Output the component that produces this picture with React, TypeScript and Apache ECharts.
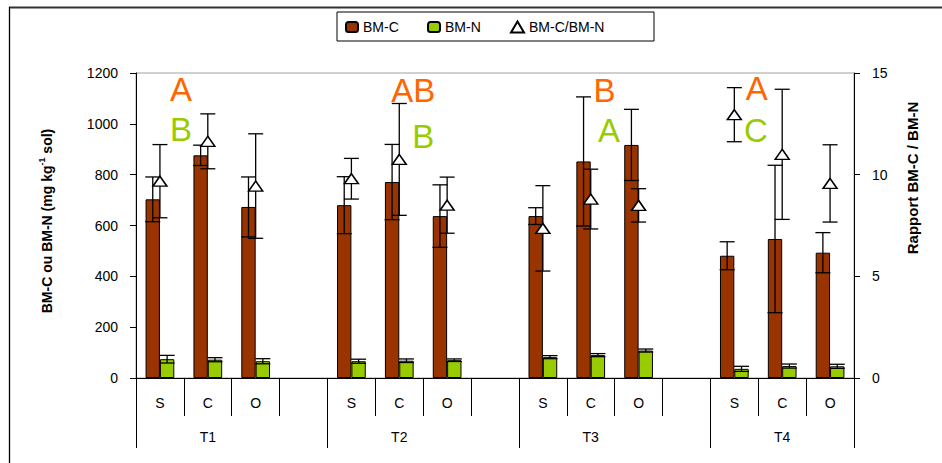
import React, { useEffect, useRef } from "react";
import * as echarts from "echarts";

// ---- data ----
const slots = ["S", "C", "O", "", "S", "C", "O", "", "S", "C", "O", "", "S", "C", "O"];
const groups = ["T1", "T2", "T3", "T4"];
const bmC = [703, 876, 673, null, 680, 771, 637, null, 637, 852, 917, null, 481, 547, 493];
const bmCErr = [88, 40, 118, null, 112, 148, 123, null, 33, 254, 140, null, 55, 290, 79];
const bmN = [74, 72, 66, null, 66, 68, 70, null, 82, 90, 108, null, 36, 47, 46];
const bmNErr = [15, 8, 10, null, 8, 7, 5, null, 6, 6, 6, null, 10, 8, 8];
const ratio = [9.68, 11.64, 9.44, null, 9.8, 10.75, 8.5, null, 7.36, 8.8, 8.49, null, 12.95, 11.0, 9.57];
const ratioErr = [1.8, 1.35, 2.57, null, 1.0, 2.75, 1.38, null, 2.1, 1.47, 0.82, null, 1.33, 3.2, 1.9];
const lettersC = ["A", "AB", "B", "A"];
const lettersN = ["B", "B", "A", "C"];

// annotation anchors (axis units): [x on slot scale, y on left axis]
const lettersCPos = [[0.94, 1137], [5.79, 1133], [9.79, 1131], [12.97, 1139]];
const lettersNPos = [[0.94, 976], [6.0, 952], [9.88, 974], [12.95, 974]];

const FONT = "'Liberation Sans', Arial, Helvetica, sans-serif";
const C_COL = "#993300";
const N_COL = "#99CC00";

// group boundaries and label centres derived from the slot list
const boundaries: number[] = [0];
slots.forEach((s, i) => {
  if (s === "") boundaries.push(i + 1);
});
boundaries.push(slots.length);
const groupCenters: number[] = [];
for (let g = 0; g < groups.length; g++) {
  const a = boundaries[g];
  let b = boundaries[g + 1];
  if (slots[b - 1] === "") b = b - 1;
  groupCenters.push((a + b) / 2);
}

const errData = (vals: (number | null)[], errs: (number | null)[], off: number) =>
  vals
    .map((v, i) => (v == null || errs[i] == null ? null : [i + 0.5 + off, v - (errs[i] as number), v + (errs[i] as number)]))
    .filter((d) => d !== null);

const renderErr = (params: any, api: any) => {
  const x = api.value(0);
  const lo = api.coord([x, api.value(1)]);
  const hi = api.coord([x, api.value(2)]);
  const hw = 7.5;
  const st = { stroke: "#000", lineWidth: 1.3 };
  return {
    type: "group",
    children: [
      { type: "line", shape: { x1: hi[0], y1: hi[1], x2: lo[0], y2: lo[1] }, style: st },
      { type: "line", shape: { x1: hi[0] - hw, y1: hi[1], x2: hi[0] + hw, y2: hi[1] }, style: st },
      { type: "line", shape: { x1: lo[0] - hw, y1: lo[1], x2: lo[0] + hw, y2: lo[1] }, style: st },
    ],
  };
};

export default function App() {
  const ref = useRef<HTMLDivElement>(null);
  useEffect(() => {
    if (!ref.current) return;
    const chart = echarts.init(ref.current, null, { renderer: "svg" });
    const legendCommon = {
      top: 20,
      padding: 0,
      itemWidth: 12,
      itemHeight: 10,
      itemGap: 5,
      textStyle: { fontSize: 14, color: "#000", fontFamily: FONT },
      selectedMode: false,
    };
    const plain = (v: number) => String(v);
    chart.setOption({
      animation: false,
      backgroundColor: "#fff",
      textStyle: { fontFamily: FONT },
      grid: { left: 136, top: 73, width: 718, height: 305, show: true, borderColor: "#a0a0a0", borderWidth: 1 },
      legend: [
        { ...legendCommon, left: 345, data: ["BM-C"] },
        { ...legendCommon, left: 427, data: ["BM-N"] },
        { ...legendCommon, left: 510, itemWidth: 13, itemHeight: 11, data: ["BM-C/BM-N"] },
      ],
      xAxis: [
        {
          type: "category",
          data: slots,
          position: "bottom",
          axisLine: { show: true, lineStyle: { color: "#000", width: 1 } },
          axisTick: { show: true, interval: 0, length: 38, lineStyle: { color: "#000" } },
          axisLabel: { interval: 0, margin: 18, fontSize: 14, color: "#000", fontFamily: FONT },
          splitLine: { show: false },
        },
        {
          type: "value",
          min: 0,
          max: slots.length,
          position: "bottom",
          offset: 0,
          axisLine: { show: false },
          axisTick: { show: true, customValues: boundaries, length: 70, lineStyle: { color: "#000" } },
          axisLabel: {
            customValues: groupCenters,
            margin: 52,
            fontSize: 14,
            color: "#000",
            fontFamily: FONT,
            formatter: (v: number) => {
              const k = groupCenters.findIndex((c) => Math.abs(c - v) < 1e-6);
              return k >= 0 ? groups[k] : "";
            },
          },
          splitLine: { show: false },
        },
      ],
      yAxis: [
        {
          type: "value",
          min: 0,
          max: 1200,
          interval: 200,
          position: "left",
          axisLine: { show: true, lineStyle: { color: "#000" } },
          axisTick: { show: true, length: 6, lineStyle: { color: "#000" } },
          axisLabel: { margin: 18, fontSize: 14, color: "#000", fontFamily: FONT, formatter: plain },
          splitLine: { show: false },
        },
        {
          type: "value",
          min: 0,
          max: 15,
          interval: 5,
          position: "right",
          axisLine: { show: true, lineStyle: { color: "#000" } },
          axisTick: { show: true, length: 6, lineStyle: { color: "#000" } },
          axisLabel: { margin: 18, fontSize: 14, color: "#000", fontFamily: FONT, formatter: plain },
          splitLine: { show: false },
        },
      ],
      series: [
        {
          name: "BM-C",
          type: "bar",
          xAxisIndex: 0,
          yAxisIndex: 0,
          data: bmC,
          barGap: "0%",
          barCategoryGap: "40%",
          itemStyle: { color: C_COL, borderColor: "#000", borderWidth: 1 },
          z: 2,
        },
        {
          name: "BM-N",
          type: "bar",
          xAxisIndex: 0,
          yAxisIndex: 0,
          data: bmN,
          barGap: "0%",
          barCategoryGap: "40%",
          itemStyle: { color: N_COL, borderColor: "#000", borderWidth: 1 },
          z: 2,
        },
        {
          name: "errC",
          type: "custom",
          xAxisIndex: 1,
          yAxisIndex: 0,
          data: errData(bmC, bmCErr, -0.15),
          renderItem: renderErr,
          z: 3,
        },
        {
          name: "errN",
          type: "custom",
          xAxisIndex: 1,
          yAxisIndex: 0,
          data: errData(bmN, bmNErr, 0.15),
          renderItem: renderErr,
          z: 3,
        },
        {
          name: "errR",
          type: "custom",
          xAxisIndex: 1,
          yAxisIndex: 1,
          data: errData(ratio, ratioErr, 0),
          renderItem: renderErr,
          z: 4,
        },
        {
          name: "BM-C/BM-N",
          type: "scatter",
          xAxisIndex: 1,
          yAxisIndex: 1,
          symbol: "triangle",
          symbolSize: [14, 10],
          data: ratio.map((r, i) => (r == null ? null : [i + 0.5, r])).filter((d) => d !== null),
          itemStyle: { color: "#fff", borderColor: "#000", borderWidth: 1.5, opacity: 1 },
          z: 5,
        },
        {
          name: "lettersC",
          type: "scatter",
          xAxisIndex: 1,
          yAxisIndex: 0,
          symbolSize: 0,
          itemStyle: { opacity: 1 },
          data: lettersC.map((t, i) => ({ name: t, value: lettersCPos[i] })),
          label: { show: true, position: "inside", formatter: "{b}", fontSize: 33, color: "#FF6600", fontFamily: FONT },
          z: 6,
        },
        {
          name: "lettersN",
          type: "scatter",
          xAxisIndex: 1,
          yAxisIndex: 0,
          symbolSize: 0,
          itemStyle: { opacity: 1 },
          data: lettersN.map((t, i) => ({ name: t, value: lettersNPos[i] })),
          label: { show: true, position: "inside", formatter: "{b}", fontSize: 33, color: N_COL, fontFamily: FONT },
          z: 6,
        },
      ],
      graphic: [
        { type: "line", shape: { x1: 9, y1: 7.5, x2: 942, y2: 7.5 }, style: { stroke: "#333", lineWidth: 2 } },
        { type: "line", shape: { x1: 9.5, y1: 7, x2: 9.5, y2: 463 }, style: { stroke: "#000", lineWidth: 1.3 } },
        {
          type: "rect",
          shape: { x: 337, y: 12, width: 317, height: 29 },
          style: { fill: "#fff", stroke: "#000", lineWidth: 1 },
          z: -1,
        },
        {
          type: "text",
          x: 47,
          y: 221,
          rotation: Math.PI / 2,
          style: {
            text: "{b|BM-C ou BM-N (mg kg}{s|-1}{b| sol)}",
            rich: {
              b: { fontSize: 14, fontWeight: "bold", fontFamily: FONT, lineHeight: 20, verticalAlign: "middle", fill: "#000" },
              s: { fontSize: 9, fontWeight: "bold", fontFamily: FONT, lineHeight: 10, verticalAlign: "top", fill: "#000" },
            },
            align: "center",
            verticalAlign: "middle",
          },
        },
        {
          type: "text",
          x: 912,
          y: 178,
          rotation: Math.PI / 2,
          style: {
            text: "Rapport BM-C / BM-N",
            fontSize: 15,
            fontWeight: "bold",
            fontFamily: FONT,
            fill: "#000",
            align: "center",
            verticalAlign: "middle",
          },
        },
      ],
    });
    return () => chart.dispose();
  }, []);
  return <div ref={ref} style={{ position: "fixed", left: 0, top: 0, width: 942, height: 463 }} />;
}
